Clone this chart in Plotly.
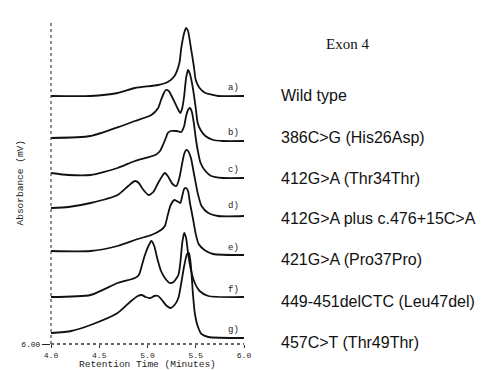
import plotly.graph_objects as go

# Retention time (minutes) and absorbance (relative to each trace baseline)
trace_ids = ["a)", "b)", "c)", "d)", "e)", "f)", "g)"]
mutation_labels = ["Wild type", "386C>G (His26Asp)", "412G>A (Thr34Thr)",
                   "412G>A plus c.476+15C>A", "421G>A (Pro37Pro)",
                   "449-451delCTC (Leu47del)", "457C>T (Thr49Thr)"]

a_x = [4.00, 4.41, 4.69, 4.87, 5.11, 5.21, 5.28, 5.33, 5.35, 5.38, 5.40, 5.42, 5.45, 5.48, 5.50, 5.54, 5.60, 5.68, 5.73, 6.00]
a_y = [0, 0, 3, 8, 11, 14, 20, 33, 48, 63, 68, 65, 48, 30, 16, 8, 3, 1, 0, 0]

b_x = [4.00, 4.41, 4.73, 4.87, 5.04, 5.11, 5.14, 5.17, 5.19, 5.22, 5.26, 5.31, 5.34, 5.36, 5.38, 5.40, 5.42, 5.44, 5.47, 5.50, 5.52, 5.55, 5.60, 5.68, 5.78, 6.00]
b_y = [0, 2, 12, 17, 23, 30, 38, 45, 48, 47, 40, 30, 25, 30, 42, 60, 68, 64, 50, 30, 15, 8, 2, -2, -3, -3]

c_x = [4.00, 4.18, 4.41, 4.69, 4.87, 5.08, 5.13, 5.16, 5.19, 5.21, 5.24, 5.30, 5.35, 5.38, 5.40, 5.42, 5.44, 5.46, 5.48, 5.50, 5.52, 5.55, 5.60, 5.66, 5.78, 6.00]
c_y = [2, 0, 0, 7, 14, 20, 24, 30, 37, 42, 44, 44, 43, 49, 59, 65, 67, 63, 52, 37, 25, 12, 4, -1, -3, -3]

d_x = [4.00, 4.18, 4.41, 4.69, 4.80, 4.87, 4.91, 4.95, 5.01, 5.06, 5.11, 5.16, 5.18, 5.21, 5.26, 5.30, 5.33, 5.36, 5.38, 5.40, 5.42, 5.45, 5.48, 5.52, 5.56, 5.63, 5.73, 6.00]
d_y = [0, 1, 5, 13, 22, 27, 25, 19, 13, 16, 25, 33, 35, 32, 24, 22, 30, 45, 54, 58, 57, 50, 35, 15, 2, -5, -8, -8]

e_x = [4.00, 4.41, 4.69, 4.90, 5.04, 5.14, 5.18, 5.21, 5.24, 5.28, 5.32, 5.34, 5.36, 5.38, 5.40, 5.42, 5.44, 5.47, 5.50, 5.53, 5.59, 5.68, 6.00]
e_y = [0, 0, 5, 12, 16, 21, 25, 36, 46, 51, 49, 48, 55, 62, 63, 60, 48, 33, 17, 7, 1, -3, -4]

f_x = [4.00, 4.41, 4.69, 4.87, 4.91, 4.94, 4.97, 5.01, 5.04, 5.07, 5.10, 5.14, 5.18, 5.23, 5.27, 5.32, 5.34, 5.36, 5.38, 5.40, 5.42, 5.45, 5.49, 5.54, 5.63, 6.00]
f_y = [0, 2, 14, 19, 22, 31, 41, 51, 56, 51, 39, 26, 19, 14, 15, 22, 34, 54, 64, 59, 44, 27, 14, 6, 1, 0]

g_x = [4.00, 4.21, 4.41, 4.69, 4.83, 4.90, 4.94, 4.98, 5.03, 5.07, 5.11, 5.15, 5.19, 5.24, 5.28, 5.32, 5.35, 5.38, 5.41, 5.43, 5.45, 5.47, 5.49, 5.52, 5.56, 5.63, 6.00]
g_y = [0, 2, 8, 20, 32, 37, 38, 36, 35, 37, 37, 33, 28, 25, 28, 35, 50, 67, 79, 80, 67, 40, 20, 7, -1, -4, -5]

# Vertical stacking offsets of each trace baseline
offsets = [248, 206, 169, 136, 93, 47, 11]
# Heights of the small a)..g) tags and the right-hand labels
tag_y = [256, 211, 174, 138, 96, 54, 14]
label_y = [249, 207, 166, 126, 85, 43, 2]

x_ticks = [4.0, 4.5, 5.0, 5.5, 6.0]
x_tick_text = ["4.0", "4.5", "5.0", "5.5", "6.0"]

series_x = [a_x, b_x, c_x, d_x, e_x, f_x, g_x]
series_y = [a_y, b_y, c_y, d_y, e_y, f_y, g_y]

fig = go.Figure()
for xs, ys, off, name in zip(series_x, series_y, offsets, trace_ids):
    fig.add_trace(go.Scatter(
        x=xs, y=[v + off for v in ys], mode="lines", name=name,
        line=dict(color="#111111", width=1.8, shape="spline", smoothing=0.6),
        showlegend=False, hoverinfo="skip"))

mono = "Liberation Mono"
annotations = []
for tid, ty in zip(trace_ids, tag_y):
    annotations.append(dict(x=5.81, y=ty, xref="x", yref="y", text=tid,
                            showarrow=False, xanchor="left",
                            font=dict(family=mono, size=9, color="#222")))
for lab, ly in zip(mutation_labels, label_y):
    annotations.append(dict(x=1.18, y=ly, xref="paper", yref="y", text=lab,
                            showarrow=False, xanchor="left",
                            font=dict(family="Liberation Sans", size=16, color="#111")))
annotations.append(dict(x=1.415, y=300, xref="paper", yref="y", text="Exon 4",
                        showarrow=False, xanchor="left",
                        font=dict(family="Liberation Serif", size=15, color="#111")))
annotations.append(dict(x=0.5, y=0, xref="paper", yref="paper",
                        text="Retention Time (Minutes)", showarrow=False,
                        yshift=-28, font=dict(family=mono, size=9.5, color="#222")))
annotations.append(dict(x=0, y=0.5, xref="paper", yref="paper",
                        text="Absorbance (mV)", showarrow=False, textangle=-90,
                        xanchor="center", xshift=-31,
                        font=dict(family=mono, size=9.5, color="#222")))

fig.update_layout(
    width=487, height=370,
    margin=dict(l=43, r=251, t=13, b=34),
    paper_bgcolor="white", plot_bgcolor="white",
    annotations=annotations,
    shapes=[
        dict(type="line", xref="paper", yref="paper", x0=0, x1=1, y0=0, y1=0,
             line=dict(color="#333", width=1.3, dash="dot")),
        dict(type="line", xref="paper", yref="paper", x0=0, x1=0, y0=0, y1=1,
             line=dict(color="#444", width=1.2, dash="dot")),
    ],
)
fig.update_xaxes(range=[4.0, 6.0], tickvals=x_ticks, ticktext=x_tick_text,
                 showgrid=False, zeroline=False, showline=False,
                 ticks="outside", ticklen=3, tickcolor="#333",
                 ticklabelstandoff=0,
                 tickfont=dict(family=mono, size=8, color="#222"))
fig.update_yaxes(range=[0, 323], tickvals=[0], ticktext=["6.00"],
                 showgrid=False, zeroline=False, showline=False,
                 ticks="outside", ticklen=8, tickcolor="#222",
                 tickfont=dict(family=mono, size=8, color="#222"))

fig.write_html("out.html")
